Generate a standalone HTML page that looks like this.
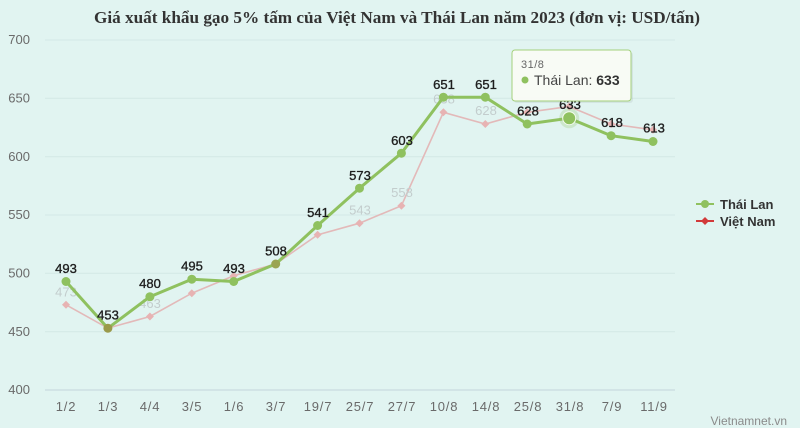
<!DOCTYPE html>
<html><head><meta charset="utf-8"><style>
html,body{margin:0;padding:0;background:#e1f4f1;}
svg{display:block;}
text{font-family:"Liberation Sans",sans-serif;}
</style></head><body>
<svg width="800" height="428" viewBox="0 0 800 428" xmlns="http://www.w3.org/2000/svg">
<rect x="0" y="0" width="800" height="428" fill="#e1f4f1"/>
<text x="397" y="23" text-anchor="middle" style="font-family:'Liberation Serif',serif;font-weight:bold;font-size:17.2px;fill:#333">Giá xuất khẩu gạo 5% tấm của Việt Nam và Thái Lan năm 2023 (đơn vị: USD/tấn)</text>

<g stroke="#d3e8e6" stroke-width="1">
<line x1="45" y1="40" x2="675" y2="40"/>
<line x1="45" y1="98.3" x2="675" y2="98.3"/>
<line x1="45" y1="156.7" x2="675" y2="156.7"/>
<line x1="45" y1="215" x2="675" y2="215"/>
<line x1="45" y1="273.3" x2="675" y2="273.3"/>
<line x1="45" y1="331.7" x2="675" y2="331.7"/>
</g>
<line x1="45" y1="390" x2="675" y2="390" stroke="#c3d5da" stroke-width="1"/>

<g font-size="13" fill="#6a6a6a" text-anchor="end">
<text x="30" y="44">700</text>
<text x="30" y="102.5">650</text>
<text x="30" y="161">600</text>
<text x="30" y="219">550</text>
<text x="30" y="277.5">500</text>
<text x="30" y="336">450</text>
<text x="30" y="394">400</text>
</g>

<g font-size="13" fill="#6a6a6a" text-anchor="middle" letter-spacing="0.8">
<text x="66" y="411">1/2</text>
<text x="108" y="411">1/3</text>
<text x="150" y="411">4/4</text>
<text x="192" y="411">3/5</text>
<text x="234" y="411">1/6</text>
<text x="276" y="411">3/7</text>
<text x="318" y="411">19/7</text>
<text x="360" y="411">25/7</text>
<text x="402" y="411">27/7</text>
<text x="444" y="411">10/8</text>
<text x="486" y="411">14/8</text>
<text x="528" y="411">25/8</text>
<text x="570" y="411">31/8</text>
<text x="612" y="411">7/9</text>
<text x="654" y="411">11/9</text>
</g>

<!-- Viet Nam series (inactive) -->
<polyline fill="none" stroke="#e3b9b9" stroke-width="1.6" points="66,304.8 107.9,328.2 149.9,316.5 191.8,293.2 233.7,275.7 275.7,264 317.6,234.8 359.5,223.2 401.4,205.7 443.4,112.3 485.3,124 527.2,112.3 569.2,106.5 611.1,124 653,129.8"/>
<g fill="#e7b3b3">
<path d="M66,300.8 l4,4 l-4,4 l-4,-4z"/>
<path d="M107.9,324.2 l4,4 l-4,4 l-4,-4z"/>
<path d="M149.9,312.5 l4,4 l-4,4 l-4,-4z"/>
<path d="M191.8,289.2 l4,4 l-4,4 l-4,-4z"/>
<path d="M233.7,271.7 l4,4 l-4,4 l-4,-4z"/>
<path d="M275.7,260 l4,4 l-4,4 l-4,-4z"/>
<path d="M317.6,230.8 l4,4 l-4,4 l-4,-4z"/>
<path d="M359.5,219.2 l4,4 l-4,4 l-4,-4z"/>
<path d="M401.4,201.7 l4,4 l-4,4 l-4,-4z"/>
<path d="M443.4,108.3 l4,4 l-4,4 l-4,-4z"/>
<path d="M485.3,120 l4,4 l-4,4 l-4,-4z"/>
<path d="M527.2,108.3 l4,4 l-4,4 l-4,-4z"/>
<path d="M569.2,102.5 l4,4 l-4,4 l-4,-4z"/>
<path d="M611.1,120 l4,4 l-4,4 l-4,-4z"/>
<path d="M653,125.8 l4,4 l-4,4 l-4,-4z"/>
</g>
<g font-size="13" fill="#c3cdcd" text-anchor="middle">
<text x="66" y="296.5">473</text>
<text x="150" y="308">463</text>
<text x="360" y="214.5">543</text>
<text x="402" y="197">558</text>
<text x="444" y="103.5">638</text>
<text x="486" y="115">628</text>
</g>

<!-- Thai Lan series -->
<polyline fill="none" stroke="#8fc15f" stroke-width="3" stroke-linejoin="round" points="66,281.5 107.9,328.2 149.9,296.7 191.8,279.2 233.7,281.5 275.7,264 317.6,225.5 359.5,188.2 401.4,153.2 443.4,97.2 485.3,97.2 527.2,124 569.2,118.2 611.1,135.7 653,141.5"/>
<g fill="#8fc15f">
<circle cx="66" cy="281.5" r="4.5"/>
<circle cx="107.9" cy="328.2" r="4.5" fill="#9a9a4a"/>
<circle cx="149.9" cy="296.7" r="4.5"/>
<circle cx="191.8" cy="279.2" r="4.5"/>
<circle cx="233.7" cy="281.5" r="4.5"/>
<circle cx="275.7" cy="264" r="4.5" fill="#9aa452"/>
<circle cx="317.6" cy="225.5" r="4.5"/>
<circle cx="359.5" cy="188.2" r="4.5"/>
<circle cx="401.4" cy="153.2" r="4.5"/>
<circle cx="443.4" cy="97.2" r="4.5"/>
<circle cx="485.3" cy="97.2" r="4.5"/>
<circle cx="527.2" cy="124" r="4.5"/>
<circle cx="569.2" cy="118.2" r="10" fill="#8fc15f" fill-opacity="0.25"/>
<circle cx="569.2" cy="118.2" r="6.5" stroke="#f4fbef" stroke-width="1"/>
<circle cx="611.1" cy="135.7" r="4.5"/>
<circle cx="653" cy="141.5" r="4.5"/>
</g>
<g font-size="13" fill="#1e1e1e" text-anchor="middle" stroke="#1e1e1e" stroke-width="0.35">
<text x="66" y="273">493</text>
<text x="108" y="319.5">453</text>
<text x="150" y="288">480</text>
<text x="192" y="270.5">495</text>
<text x="234" y="273">493</text>
<text x="276" y="255.5">508</text>
<text x="318" y="217">541</text>
<text x="360" y="180">573</text>
<text x="402" y="145">603</text>
<text x="444" y="89">651</text>
<text x="486" y="89">651</text>
<text x="528" y="115.5">628</text>
<text x="570" y="109">633</text>
<text x="612" y="127">618</text>
<text x="654" y="132.5">613</text>
</g>

<!-- Tooltip -->
<rect x="514" y="52" width="119" height="51" rx="3" fill="#000" fill-opacity="0.06"/>
<rect x="512" y="50" width="119" height="51" rx="3" fill="#f9fbf6" fill-opacity="0.97" stroke="#a4d07c" stroke-width="1"/>
<text x="521" y="68" font-size="11" fill="#666" letter-spacing="0.5">31/8</text>
<circle cx="525" cy="80" r="3.5" fill="#8fc15f"/>
<text x="534" y="85" font-size="14" fill="#444">Thái Lan: <tspan font-weight="bold" fill="#333">633</tspan></text>

<!-- Legend -->
<line x1="696" y1="204" x2="714" y2="204" stroke="#8fc15f" stroke-width="2"/>
<circle cx="705" cy="204" r="4" fill="#8fc15f"/>
<text x="720" y="209" font-size="13" font-weight="bold" fill="#333">Thái Lan</text>
<line x1="696" y1="221" x2="714" y2="221" stroke="#d23a3a" stroke-width="2"/>
<path d="M705,217 l4,4 l-4,4 l-4,-4z" fill="#d23a3a"/>
<text x="720" y="226" font-size="13" font-weight="bold" fill="#333">Việt Nam</text>

<text x="787" y="425" font-size="12" fill="#8a8a8a" text-anchor="end">Vietnamnet.vn</text>
</svg>
</body></html>
